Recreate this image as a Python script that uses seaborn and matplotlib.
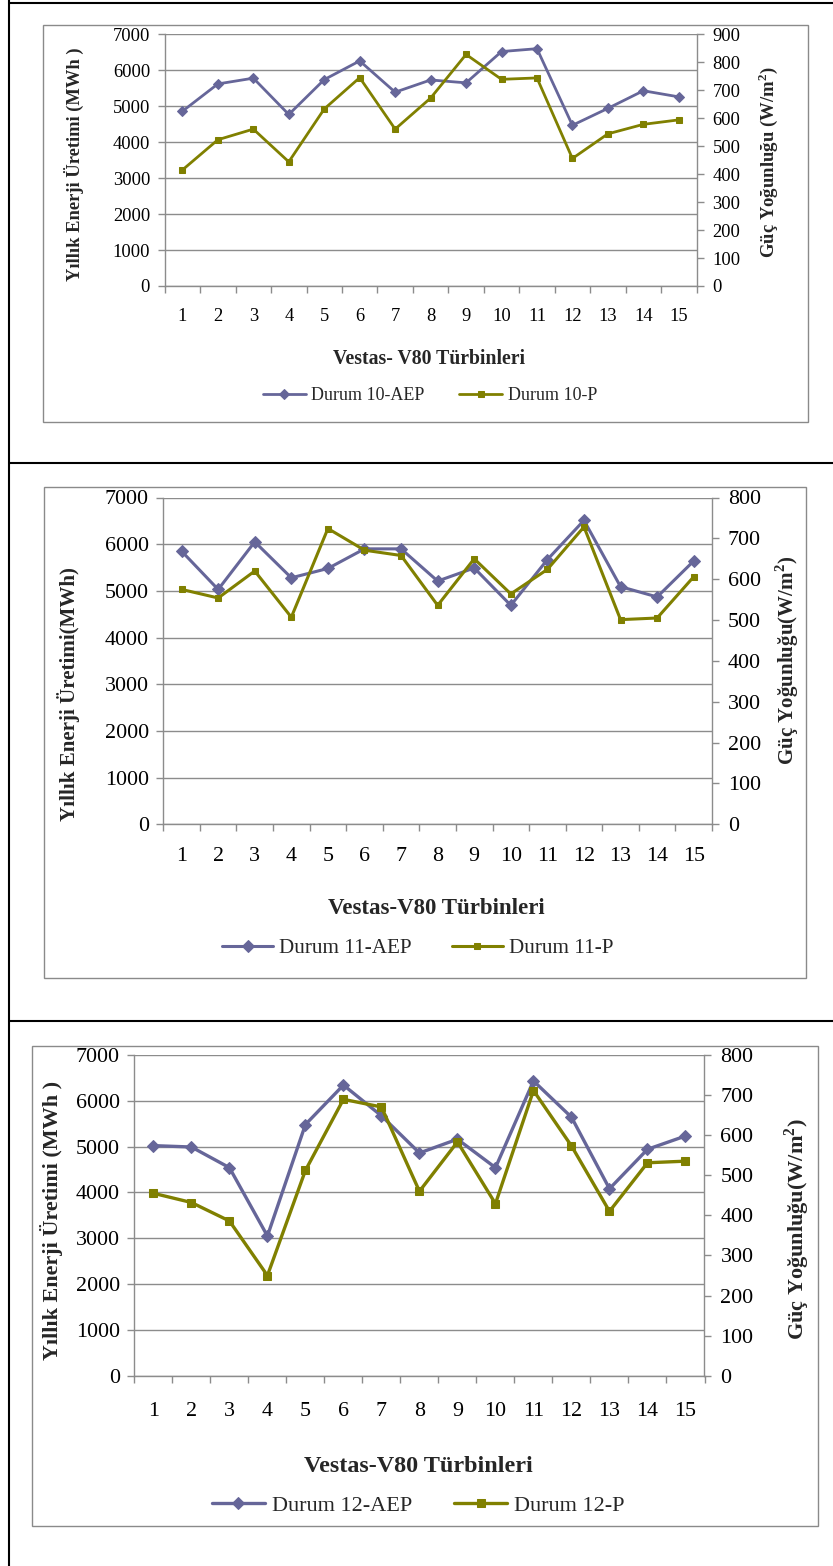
import numpy as np
import matplotlib
matplotlib.use("Agg")
import matplotlib.pyplot as plt
from matplotlib.lines import Line2D
from matplotlib.patches import Rectangle
import seaborn as sns

# ---- data -------------------------------------------------------------
turbines = list(range(1, 16))
turbine_labels = [str(t) for t in turbines]

aep_10 = [4860, 5620, 5780, 4770, 5740, 6260, 5390, 5730, 5650, 6520, 6600, 4470, 4940, 5430, 5260]
p_10 = [415, 523, 561, 444, 633, 745, 561, 672, 828, 739, 744, 456, 544, 578, 594]

aep_11 = [5850, 5030, 6050, 5280, 5480, 5900, 5900, 5210, 5490, 4690, 5670, 6510, 5090, 4870, 5640]
p_11 = [575, 554, 620, 507, 724, 671, 658, 536, 650, 564, 624, 728, 501, 505, 606]

aep_12 = [5020, 4990, 4540, 3050, 5480, 6340, 5670, 4860, 5160, 4540, 6430, 5640, 4080, 4940, 5230]
p_12 = [455, 432, 386, 250, 512, 689, 670, 460, 583, 429, 711, 573, 410, 531, 535]

aep_ticks = [0, 1000, 2000, 3000, 4000, 5000, 6000, 7000]
p_ticks_10 = [0, 100, 200, 300, 400, 500, 600, 700, 800, 900]
p_ticks_11 = [0, 100, 200, 300, 400, 500, 600, 700, 800]
p_ticks_12 = [0, 100, 200, 300, 400, 500, 600, 700, 800]

legend_aep = ["Durum 10-AEP", "Durum 11-AEP", "Durum 12-AEP"]
legend_p = ["Durum 10-P", "Durum 11-P", "Durum 12-P"]
xlabels = ["Vestas- V80 Türbinleri", "Vestas-V80 Türbinleri", "Vestas-V80 Türbinleri"]
ylabels_left = ["Yıllık Enerji Üretimi (MWh )", "Yıllık Enerji Üretimi(MWh)", "Yıllık Enerji Üretimi (MWh )"]
ylabels_right = [r"Güç Yoğunluğu (W/m$^\mathbf{2}$)", r"Güç Yoğunluğu(W/m$^\mathbf{2}$)",
                 r"Güç Yoğunluğu(W/m$^\mathbf{2}$)"]

# ---- style ------------------------------------------------------------
sns.set_theme(style="white")
plt.rcParams["font.family"] = ["Liberation Serif", "DejaVu Serif"]
plt.rcParams["mathtext.fontset"] = "custom"
plt.rcParams["mathtext.rm"] = "Liberation Serif"
plt.rcParams["mathtext.bf"] = "Liberation Serif:bold"

AEP_COLOR = "#666699"
P_COLOR = "#808000"
GRID = "#8c8c8c"
FRAME = "#8a8a8a"

W, H = 833, 1566
fig = plt.figure(figsize=(W / 100, H / 100), dpi=100)


def fx(x):
    return x / W


def fy(y):
    return 1 - y / H


def rect(l, t, r, b):
    return [l / W, 1 - b / H, (r - l) / W, (b - t) / H]


panels = [
    dict(aep=aep_10, p=p_10, pticks=p_ticks_10, ax=(164.7, 34.3, 696.5, 286.0),
         frame=(43.3, 25.0, 807.7, 421.7), tick=13.3, ylab=13.3, yrlab=13.5, xlab=14.2, leg=13.0,
         xlab_pos=(429, 359), leg_pos=(430, 396), yl_pos=(74, 164), yr_pos=(768, 162),
         xpad=15.5, ms_d=5.2, ms_s=4.4, lw=2.0),
    dict(aep=aep_11, p=p_11, pticks=p_ticks_11, ax=(163.3, 497.5, 712.0, 824.3),
         frame=(44.0, 487.3, 806.0, 978.0), tick=15.8, ylab=15.1, yrlab=15.1, xlab=16.5, leg=15.2,
         xlab_pos=(436.5, 908), leg_pos=(418, 948.6), yl_pos=(69, 694), yr_pos=(787, 660),
         xpad=16.5, ms_d=5.7, ms_s=4.8, lw=2.2),
    dict(aep=aep_12, p=p_12, pticks=p_ticks_12, ax=(134.4, 1054.8, 704.5, 1375.9),
         frame=(31.7, 1045.7, 818.3, 1525.7), tick=15.8, ylab=15.9, yrlab=16.0, xlab=17.4, leg=16.0,
         xlab_pos=(418, 1466), leg_pos=(418, 1505.7), yl_pos=(51.5, 1220), yr_pos=(797, 1229),
         xpad=18.5, ms_d=6.4, ms_s=5.3, lw=2.4),
]

for i, cfg in enumerate(panels):
    # chart area frame
    l, t, r, b = cfg["frame"]
    fig.add_artist(Rectangle((fx(l), fy(b)), (r - l) / W, (b - t) / H, transform=fig.transFigure,
                             fill=False, edgecolor=FRAME, lw=1.0))

    ax = fig.add_axes(rect(*cfg["ax"]))
    ax2 = ax.twinx()

    sns.lineplot(x=turbines, y=cfg["aep"], ax=ax, color=AEP_COLOR, lw=cfg["lw"], marker="D",
                 markersize=cfg["ms_d"], markeredgecolor=AEP_COLOR, markerfacecolor=AEP_COLOR,
                 legend=False)
    sns.lineplot(x=turbines, y=cfg["p"], ax=ax2, color=P_COLOR, lw=cfg["lw"], marker="s",
                 markersize=cfg["ms_s"], markeredgecolor=P_COLOR, markerfacecolor=P_COLOR,
                 legend=False)

    ax.set_xlim(0.5, 15.5)
    ax.set_ylim(0, 7000)
    ax.set_yticks(aep_ticks)
    ax.set_yticklabels([str(v) for v in aep_ticks])
    ax2.set_ylim(0, cfg["pticks"][-1])
    ax2.set_yticks(cfg["pticks"])
    ax2.set_yticklabels([str(v) for v in cfg["pticks"]])

    # category boundaries carry the tick marks, centres carry the labels
    ax.set_xticks(np.arange(0.5, 15.6, 1.0))
    ax.set_xticklabels([])
    ax.set_xticks(turbines, minor=True)
    ax.set_xticklabels(turbine_labels, minor=True)
    ax.set_xlabel("")
    ax.set_ylabel("")
    ax2.set_ylabel("")

    ax.grid(axis="y", color=GRID, lw=1.0)
    ax.grid(axis="x", visible=False)
    ax.set_axisbelow(True)

    for s in ("top", "right"):
        ax.spines[s].set_visible(False)
    for s in ("left", "bottom"):
        ax.spines[s].set_color(GRID)
        ax.spines[s].set_linewidth(1.0)
    for s in ("top", "left", "bottom"):
        ax2.spines[s].set_visible(False)
    ax2.spines["right"].set_color(GRID)
    ax2.spines["right"].set_linewidth(1.0)

    ax.tick_params(axis="x", which="major", direction="out", length=5, width=1, color=GRID,
                   bottom=True)
    ax.tick_params(axis="x", which="minor", length=0, pad=cfg["xpad"], labelsize=cfg["tick"],
                   labelcolor="black", bottom=True)
    ax.tick_params(axis="y", direction="out", length=5, width=1, color=GRID, pad=5.5,
                   labelsize=cfg["tick"], labelcolor="black", left=True)
    ax2.tick_params(axis="y", direction="out", length=5, width=1, color=GRID, pad=6.5,
                    labelsize=cfg["tick"], labelcolor="black", right=True)

    # axis titles
    fig.text(fx(cfg["yl_pos"][0]), fy(cfg["yl_pos"][1]), ylabels_left[i], rotation=90,
             ha="center", va="center", fontsize=cfg["ylab"], fontweight="bold")
    fig.text(fx(cfg["yr_pos"][0]), fy(cfg["yr_pos"][1]), ylabels_right[i], rotation=90,
             ha="center", va="center", fontsize=cfg["yrlab"], fontweight="bold")
    fig.text(fx(cfg["xlab_pos"][0]), fy(cfg["xlab_pos"][1]), xlabels[i],
             ha="center", va="center", fontsize=cfg["xlab"], fontweight="bold")

    handles = [ax.get_lines()[0], ax2.get_lines()[0]]
    fig.legend(handles, [legend_aep[i], legend_p[i]], loc="center",
               bbox_to_anchor=(fx(cfg["leg_pos"][0]), fy(cfg["leg_pos"][1])),
               bbox_transform=fig.transFigure, ncol=2, frameon=False,
               prop={"size": cfg["leg"], "family": "Liberation Serif"},
               handlelength=2.4, columnspacing=1.9, handletextpad=0.3, borderpad=0)

# table rules around the three charts
for (x0, y0, x1, y1) in [(8.5, 0, 8.5, H), (8.5, 2.5, W, 2.5), (8.5, 462.7, W, 462.7),
                         (8.5, 1020.7, W, 1020.7)]:
    fig.add_artist(Line2D([fx(x0), fx(x1)], [fy(y0), fy(y1)], transform=fig.transFigure,
                          color="black", lw=1.5))

fig.savefig("out.png", dpi=100, facecolor="white")
